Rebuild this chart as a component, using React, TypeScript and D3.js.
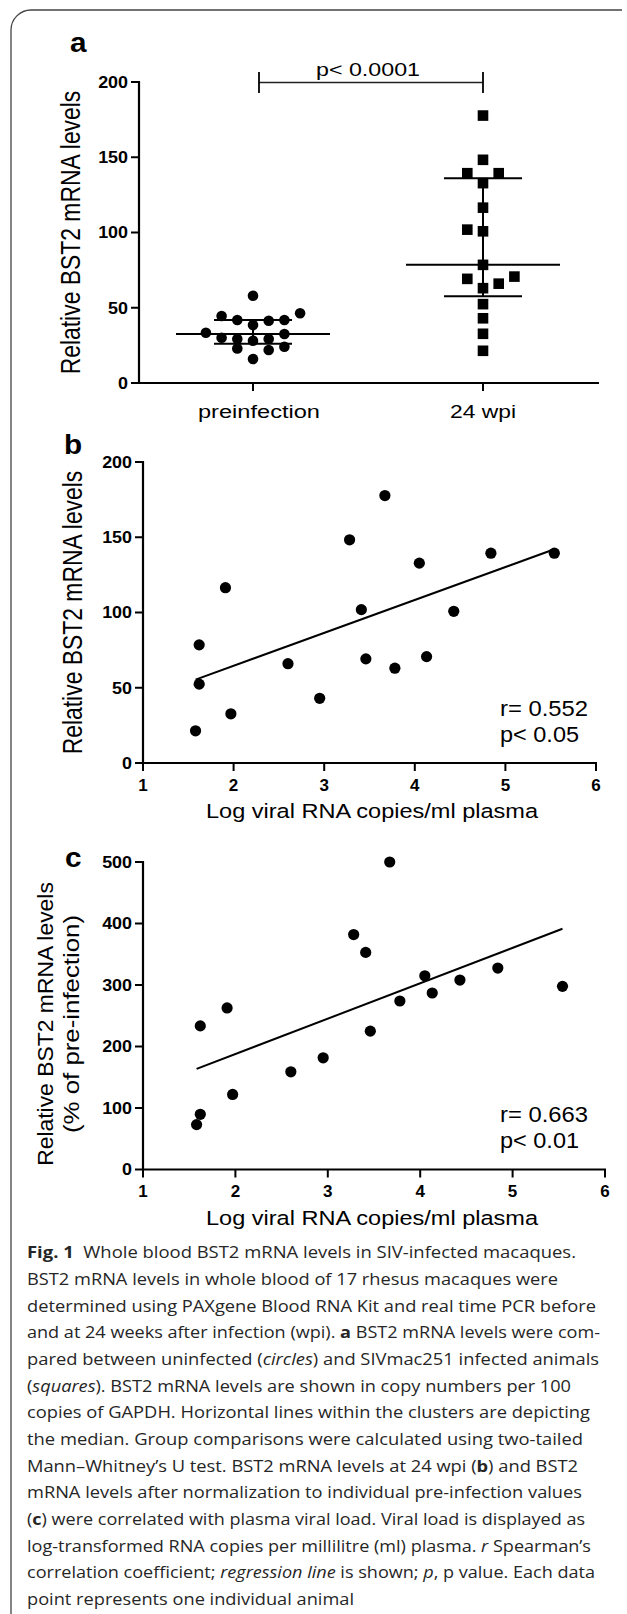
import React from 'react';
import * as d3 from 'd3';

// ---------------- data ----------------
const groups = ['preinfection', '24 wpi'];
const preinfectionBST2 = [58, 44.5, 41.9, 41.4, 41.9, 46.3, 38.5, 33.4, 30.1, 32.6, 29.2, 28.1, 29.2, 23, 21.9, 24.1, 15.9];
const viralLoadLog = [1.58, 1.62, 1.62, 1.91, 1.97, 2.6, 2.95, 3.28, 3.41, 3.46, 3.67, 3.78, 4.05, 4.13, 4.43, 4.84, 5.54];
const bst2At24wpi = [21.4, 52.4, 78.5, 116.5, 32.7, 66, 43, 148.3, 101.9, 69.2, 177.7, 63, 132.8, 70.7, 100.8, 139.4, 139.4];
const bst2PercentOfPre = [73, 89.7, 233.5, 262.7, 122, 158.9, 181.6, 382, 353, 225, 500, 274, 315, 287, 308, 327.6, 297.8];
const ticksA = [0, 50, 100, 150, 200];
const ticksB = [0, 50, 100, 150, 200];
const ticksC = [0, 100, 200, 300, 400, 500];
const ticksX = [1, 2, 3, 4, 5, 6];
const yTitle = 'Relative BST2 mRNA levels';
const yTitleC2 = '(% of pre-infection)';
const xTitle = 'Log viral RNA copies/ml plasma';
const statA = 'p< 0.0001';
const statB = ['r= 0.552', 'p< 0.05'];
const statC = ['r= 0.663', 'p< 0.01'];

type Seg = [string, 'n' | 'b' | 'i'];
const caption: Seg[][] = [
  [['Fig. 1', 'b'], ['  Whole blood BST2 mRNA levels in SIV-infected macaques.', 'n']],
  [['BST2 mRNA levels in whole blood of 17 rhesus macaques were', 'n']],
  [['determined using PAXgene Blood RNA Kit and real time PCR before', 'n']],
  [['and at 24 weeks after infection (wpi). ', 'n'], ['a', 'b'], [' BST2 mRNA levels were com-', 'n']],
  [['pared between uninfected (', 'n'], ['circles', 'i'], [') and SIVmac251 infected animals', 'n']],
  [['(', 'n'], ['squares', 'i'], ['). BST2 mRNA levels are shown in copy numbers per 100', 'n']],
  [['copies of GAPDH. Horizontal lines within the clusters are depicting', 'n']],
  [['the median. Group comparisons were calculated using two-tailed', 'n']],
  [['Mann\u2013Whitney\u2019s U test. BST2 mRNA levels at 24 wpi (', 'n'], ['b', 'b'], [') and BST2', 'n']],
  [['mRNA levels after normalization to individual pre-infection values', 'n']],
  [['(', 'n'], ['c', 'b'], [') were correlated with plasma viral load. Viral load is displayed as', 'n']],
  [['log-transformed RNA copies per millilitre (ml) plasma. ', 'n'], ['r', 'i'], [' Spearman\u2019s', 'n']],
  [['correlation coefficient; ', 'n'], ['regression line', 'i'], [' is shown; ', 'n'], ['p', 'i'], [', p value. Each data', 'n']],
  [['point represents one individual animal', 'n']],
];
const captionRightEdges = [576, 558, 596, 600, 599, 571, 590, 583, 578, 582, 585, 591, 595, 354];

// ---------------- helpers ----------------
const ARIAL = "'Liberation Sans', Arial, Helvetica, sans-serif";
const CAPF = "'Open Sans', 'Noto Sans', sans-serif";

function prismQuantile(sorted: number[], p: number) {
  const n = sorted.length;
  const pos = (n + 1) * p;
  const lo = Math.floor(pos);
  const f = pos - lo;
  if (lo < 1) return sorted[0];
  if (lo >= n) return sorted[n - 1];
  return sorted[lo - 1] + f * (sorted[lo] - sorted[lo - 1]);
}

// Prism-like scatter: rows of close values spread horizontally in slots
function swarmSlots(values: number[], y: (v: number) => number, diam: number) {
  const idx = values.map((_, i) => i).sort((a, b) => values[a] - values[b]);
  const rows: number[][] = [];
  let cur: number[] = [];
  idx.forEach((i, k) => {
    if (k > 0 && Math.abs(y(values[i]) - y(values[idx[k - 1]])) >= diam / 2) {
      rows.push(cur);
      cur = [];
    }
    cur.push(i);
  });
  rows.push(cur);
  const slots: number[] = new Array(values.length).fill(0);
  const centerYs: number[] = [];
  let dir = 1;
  rows.forEach((row) => {
    if (row.length === 1) {
      slots[row[0]] = 0;
      centerYs.push(y(values[row[0]]));
      return;
    }
    const firstY = y(values[row[0]]);
    const skip0 = centerYs.some((cy) => Math.abs(cy - firstY) < diam);
    const seq: number[] = skip0 ? [] : [0];
    for (let k = 1; seq.length < row.length; k++) {
      seq.push(dir * k);
      if (seq.length < row.length) seq.push(-dir * k);
    }
    row.forEach((i, j) => {
      slots[i] = seq[j];
      if (seq[j] === 0) centerYs.push(y(values[i]));
    });
    dir = -dir;
  });
  return slots;
}

function regression(xs: number[], ys: number[]) {
  const mx = d3.mean(xs)!;
  const my = d3.mean(ys)!;
  let sxy = 0;
  let sxx = 0;
  xs.forEach((x, i) => {
    sxy += (x - mx) * (ys[i] - my);
    sxx += (x - mx) * (x - mx);
  });
  const slope = sxy / sxx;
  return { slope, intercept: my - slope * mx };
}

type TP = {
  x: number; y: number; text: string; size: number; bold?: boolean; anchor?: string;
  sx?: number; sy?: number; rotate?: number; len?: number;
};
function T({ x, y, text, size, bold = false, anchor = 'start', sx = 1, sy = 1, rotate = 0, len }: TP) {
  return (
    <text
      transform={`translate(${x},${y}) rotate(${rotate}) scale(${sx},${sy})`}
      fontFamily={ARIAL}
      fontSize={size}
      fontWeight={bold ? 700 : 400}
      textAnchor={anchor as any}
      textLength={len}
      lengthAdjust={len ? 'spacingAndGlyphs' : undefined}
      fill="#000"
    >
      {text}
    </text>
  );
}

function YAxis({ scale, ticks, x }: { scale: d3.ScaleLinear<number, number>; ticks: number[]; x: number }) {
  const [lo, hi] = d3.extent(ticks) as [number, number];
  return (
    <g>
      <line x1={x} x2={x} y1={scale(hi) - 1} y2={scale(lo)} stroke="#000" strokeWidth={2.2} />
      {ticks.map((t) => (
        <g key={t}>
          <line x1={x - 8} x2={x} y1={scale(t)} y2={scale(t)} stroke="#000" strokeWidth={2} />
          <T x={x - 11} y={scale(t) + 5.8} text={String(t)} size={16} bold anchor="end" sx={1.12} />
        </g>
      ))}
    </g>
  );
}

function XAxisNum({ scale, y, ticks, left }: { scale: d3.ScaleLinear<number, number>; y: number; ticks: number[]; left: number }) {
  const [, hi] = d3.extent(ticks) as [number, number];
  return (
    <g>
      <line x1={left - 1} x2={scale(hi) + 1} y1={y} y2={y} stroke="#000" strokeWidth={2.2} />
      {ticks.map((t) => (
        <g key={t}>
          <line x1={scale(t)} x2={scale(t)} y1={y} y2={y + 8} stroke="#000" strokeWidth={2} />
          <T x={scale(t)} y={y + 27.5} text={String(t)} size={17} bold anchor="middle" />
        </g>
      ))}
    </g>
  );
}

export default function App() {
  // ---------- panel a ----------
  const ya = d3.scaleLinear().domain([0, 200]).range([383, 82]);
  const xa = d3.scalePoint<string>().domain(groups).range([253, 483]);
  const axisAX = 139;
  const slotW = 15.7;
  const slotsPre = swarmSlots(preinfectionBST2, ya, 10.7);
  const slotsPost = swarmSlots(bst2At24wpi, ya, 10.7);
  const groupData = [preinfectionBST2, bst2At24wpi];
  const groupSlots = [slotsPre, slotsPost];

  // ---------- panel b ----------
  const xb = d3.scaleLinear().domain([1, 6]).range([143, 596]);
  const yb = d3.scaleLinear().domain([0, 200]).range([763, 462]);
  const regB = regression(viralLoadLog, bst2At24wpi);

  // ---------- panel c ----------
  const xc = d3.scaleLinear().domain([1, 6]).range([143, 605]);
  const yc = d3.scaleLinear().domain([0, 500]).range([1169.5, 862]);
  const regC = regression(viralLoadLog, bst2PercentOfPre);

  const [xMin, xMax] = d3.extent(viralLoadLog) as [number, number];

  return (
    <svg
      width={627}
      height={1614}
      viewBox="0 0 627 1614"
      style={{ position: 'absolute', left: 0, top: 0, display: 'block', background: '#fff' }}
    >
      <rect x={0} y={0} width={627} height={1614} fill="#fff" />
      {/* frame */}
      <path d="M11,1614 V30 A20,20 0 0 1 31,10 H622" fill="none" stroke="#444" strokeWidth={1.3} />

      {/* ================= panel a ================= */}
      <T x={70} y={52} text="a" size={27} bold sx={1.1} />
      <YAxis scale={ya} ticks={ticksA} x={axisAX} />
      <line x1={axisAX - 1} x2={599} y1={ya(0)} y2={ya(0)} stroke="#000" strokeWidth={2.2} />
      {groups.map((g) => (
        <line key={g} x1={xa(g)} x2={xa(g)} y1={ya(0)} y2={ya(0) + 8} stroke="#000" strokeWidth={2} />
      ))}
      <T x={xa(groups[0])! + 6} y={418} text={groups[0]} size={18} anchor="middle" len={122} />
      <T x={xa(groups[1])!} y={418} text={groups[1]} size={18} anchor="middle" len={66} />
      <T x={80} y={(ya(200) + ya(0)) / 2} text={yTitle} size={22.9} anchor="middle" rotate={-90} sy={1.18} />

      {/* significance bracket */}
      <line x1={xa(groups[0])! + 6} x2={xa(groups[1])!} y1={ya(200) + 0.5} y2={ya(200) + 0.5} stroke="#222" strokeWidth={1.6} />
      <line x1={xa(groups[0])! + 6} x2={xa(groups[0])! + 6} y1={ya(200) - 10} y2={ya(200) + 11} stroke="#000" strokeWidth={1.8} />
      <line x1={xa(groups[1])!} x2={xa(groups[1])!} y1={ya(200) - 10} y2={ya(200) + 11} stroke="#000" strokeWidth={1.8} />
      <T x={368} y={76} text={statA} size={17.5} anchor="middle" len={104} />

      {groups.map((g, gi) => {
        const vals = groupData[gi];
        const sorted = [...vals].sort((a, b) => a - b);
        const med = prismQuantile(sorted, 0.5);
        const q1 = prismQuantile(sorted, 0.25);
        const q3 = prismQuantile(sorted, 0.75);
        const cx = xa(g)!;
        return (
          <g key={g}>
            <line x1={cx} x2={cx} y1={ya(q1)} y2={ya(q3)} stroke="#000" strokeWidth={2} />
            {vals.map((v, i) => {
              const px = cx + groupSlots[gi][i] * slotW;
              return gi === 0 ? (
                <circle key={i} cx={px} cy={ya(v)} r={5.3} fill="#000" />
              ) : (
                <rect key={i} x={px - 5.3} y={ya(v) - 5.3} width={10.6} height={10.6} fill="#000" />
              );
            })}
            <line x1={cx - 77} x2={cx + 77} y1={ya(med)} y2={ya(med)} stroke="#000" strokeWidth={2} />
            <line x1={cx - 39} x2={cx + 39} y1={ya(q1)} y2={ya(q1)} stroke="#000" strokeWidth={2} />
            <line x1={cx - 39} x2={cx + 39} y1={ya(q3)} y2={ya(q3)} stroke="#000" strokeWidth={2} />
          </g>
        );
      })}

      {/* ================= panel b ================= */}
      <T x={64} y={454} text="b" size={27} bold sx={1.1} />
      <YAxis scale={yb} ticks={ticksB} x={143} />
      <XAxisNum scale={xb} y={yb(0)} ticks={ticksX} left={143} />
      <T x={372} y={818} text={xTitle} size={20.5} anchor="middle" len={332} />
      <T x={82} y={(yb(200) + yb(0)) / 2} text={yTitle} size={22.9} anchor="middle" rotate={-90} sy={1.18} />
      <line
        x1={xb(xMin)} y1={yb(regB.intercept + regB.slope * xMin)}
        x2={xb(xMax)} y2={yb(regB.intercept + regB.slope * xMax)}
        stroke="#000" strokeWidth={2}
      />
      {viralLoadLog.map((x, i) => (
        <circle key={i} cx={xb(x)} cy={yb(bst2At24wpi[i])} r={5.6} fill="#000" />
      ))}
      <T x={500} y={716} text={statB[0]} size={22} len={88} />
      <T x={500} y={742} text={statB[1]} size={22} len={79} />

      {/* ================= panel c ================= */}
      <T x={65} y={867} text="c" size={27} bold sx={1.1} />
      <YAxis scale={yc} ticks={ticksC} x={143} />
      <XAxisNum scale={xc} y={yc(0)} ticks={ticksX} left={143} />
      <T x={372} y={1224.5} text={xTitle} size={20.5} anchor="middle" len={332} />
      <T x={53} y={1024} text={yTitle} size={22.9} anchor="middle" rotate={-90} />
      <T x={79} y={1024} text={yTitleC2} size={22.9} anchor="middle" rotate={-90} len={218} />
      <line
        x1={xc(xMin)} y1={yc(regC.intercept + regC.slope * xMin)}
        x2={xc(xMax)} y2={yc(regC.intercept + regC.slope * xMax)}
        stroke="#000" strokeWidth={2}
      />
      {viralLoadLog.map((x, i) => (
        <circle key={i} cx={xc(x)} cy={yc(bst2PercentOfPre[i])} r={5.6} fill="#000" />
      ))}
      <T x={500} y={1122} text={statC[0]} size={22} len={88} />
      <T x={500} y={1148} text={statC[1]} size={22} len={79} />

      {/* ================= caption ================= */}
      {caption.map((line, li) => (
        <text
          key={li}
          x={27}
          y={1258.3 + li * 26.67}
          fontFamily={CAPF}
          fontSize={16.2}
          fill="#262626"
          textLength={captionRightEdges[li] - 27}
          lengthAdjust="spacingAndGlyphs"
          style={{ whiteSpace: 'pre' }}
        >
          {line.map(([s, st], si) => (
            <tspan
              key={si}
              fontWeight={st === 'b' ? 700 : 400}
              fontStyle={st === 'i' ? 'italic' : 'normal'}
            >
              {s}
            </tspan>
          ))}
        </text>
      ))}
    </svg>
  );
}
